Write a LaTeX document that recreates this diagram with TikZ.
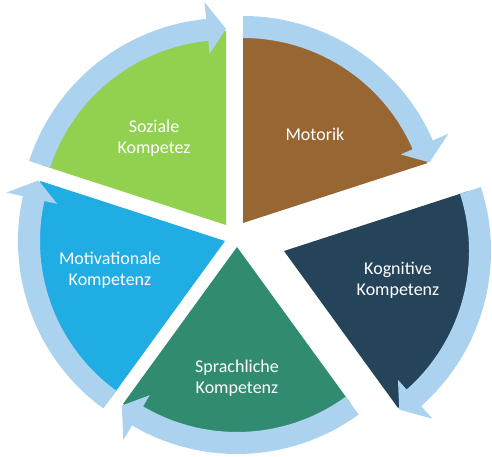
\documentclass[tikz,border=0pt]{standalone}
\usepackage{fontspec}
\setmainfont{Carlito}
\definecolor{motorikbraun}{HTML}{986633}
\definecolor{kognitivblau}{HTML}{264459}
\definecolor{sprachgruen}{HTML}{318B70}
\definecolor{motivblau}{HTML}{1FADE3}
\definecolor{sozialgruen}{HTML}{92D050}
\definecolor{pfeilblau}{HTML}{ABD2EF}

\begin{document}
\begin{tikzpicture}[x=1pt, y=1pt,
    pfeil/.style ={fill=pfeilblau},
    beschriftung/.style ={text=white, align=center, font=\fontsize{18}{21}\selectfont}]
   \useasboundingbox (0,0) rectangle (492,457);

   % Spitzen der Segmente
   \coordinate (M) at (243,234);
   \coordinate (K) at (284,206);
   \coordinate (S) at (237,210);
   \coordinate (V) at (225,216);
   \coordinate (Z) at (226,232);

   % Segmente
   \fill[motorikbraun] (M) -- ++(18:194) arc[start angle=18, end angle=90, radius=194] -- cycle;
   \fill[kognitivblau] (K) -- ++(-54:194) arc[start angle=-54, end angle=18, radius=194] -- cycle;
   \fill[sprachgruen] (S) -- ++(-126:194) arc[start angle=-126, end angle=-54, radius=194] -- cycle;
   \fill[motivblau] (V) -- ++(162:194) arc[start angle=162, end angle=234, radius=194] -- cycle;
   \fill[sozialgruen] (Z) -- ++(90:194) arc[start angle=90, end angle=162, radius=194] -- cycle;

   % Pfeile
   \fill[pfeil, shift={(M)}] (90:185) arc[start angle=90, end angle=23.5, radius=185]
      -- (23.5:172) -- (18:196) -- (23.5:224) -- (23.5:207) arc[start angle=23.5, end angle=90, radius=207] -- cycle;
   \fill[pfeil, shift={(K)}] (18:185) arc[start angle=18, end angle=-48.5, radius=185]
      -- (-48.5:172) -- (-54:196) -- (-48.5:224) -- (-48.5:207) arc[start angle=-48.5, end angle=18, radius=207] -- cycle;
   \fill[pfeil, shift={(S)}] (-54:185) arc[start angle=-54, end angle=-120.5, radius=185]
      -- (-120.5:172) -- (-126:196) -- (-120.5:224) -- (-120.5:207) arc[start angle=-120.5, end angle=-54, radius=207] -- cycle;
   \fill[pfeil, shift={(V)}] (234:185) arc[start angle=234, end angle=167.5, radius=185]
      -- (167.5:172) -- (162:196) -- (167.5:224) -- (167.5:207) arc[start angle=167.5, end angle=234, radius=207] -- cycle;
   \fill[pfeil, shift={(Z)}] (162:185) arc[start angle=162, end angle=95.5, radius=185]
      -- (95.5:172) -- (90:196) -- (95.5:224) -- (95.5:207) arc[start angle=95.5, end angle=162, radius=207] -- cycle;

   % Texte
   \node[beschriftung] (motorik) at (315,323) {Motorik};
   \node[beschriftung] (kognitiv) at (398,177) {Kognitive\\Kompetenz};
   \node[beschriftung] (sprache) at (237,79) {Sprachliche\\Kompetenz};
   \node[beschriftung] (motivation) at (110,187) {Motivationale\\Kompetenz};
   \node[beschriftung] (sozial) at (154,319) {Soziale\\Kompetez};
 \end{tikzpicture}
\end{document}
